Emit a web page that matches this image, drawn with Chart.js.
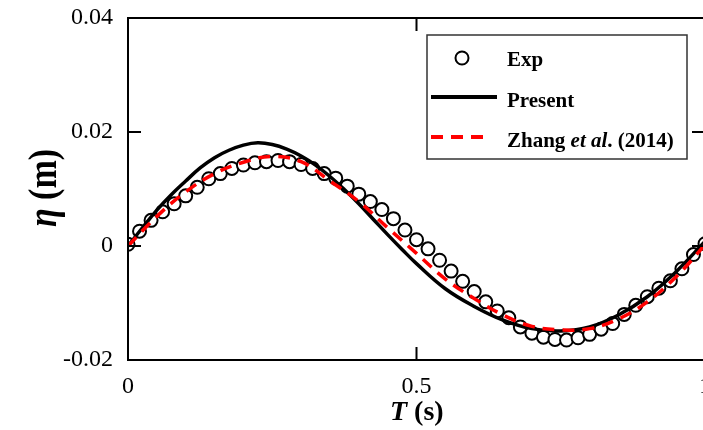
<!DOCTYPE html>
<html lang="en">
<head>
<meta charset="utf-8">
<title>Free surface elevation</title>
<script src="https://cdn.jsdelivr.net/npm/chart.js"></script>
<style>
  html, body { margin: 0; padding: 0; background: #fff; overflow: hidden; }
  #wrap { width: 716px; height: 430px; }
</style>
</head>
<body>
<div id="wrap"><canvas id="etaChart" width="716" height="430"></canvas></div>
<script>
// measured points (circles)
const expT = [0, 0.02, 0.04, 0.06, 0.08, 0.10, 0.12, 0.14, 0.16, 0.18,
              0.20, 0.22, 0.24, 0.26, 0.28, 0.30, 0.32, 0.34, 0.36, 0.38,
              0.40, 0.42, 0.44, 0.46, 0.48, 0.50, 0.52, 0.54, 0.56, 0.58,
              0.60, 0.62, 0.64, 0.66, 0.68, 0.70, 0.72, 0.74, 0.76, 0.78,
              0.80, 0.82, 0.84, 0.86, 0.88, 0.90, 0.92, 0.94, 0.96, 0.98, 1.00];
const expEta = [0.0003, 0.0026, 0.0045, 0.0060, 0.0074, 0.0088, 0.0103, 0.0118, 0.0127, 0.0136,
                0.0142, 0.0146, 0.0148, 0.0150, 0.0148, 0.0143, 0.0136, 0.0127, 0.0119, 0.0105,
                0.0091, 0.0078, 0.0064, 0.0048, 0.0028, 0.0011, -0.0005, -0.0025, -0.0044, -0.0062,
                -0.0080, -0.0098, -0.0114, -0.0126, -0.0142, -0.0153, -0.0160, -0.0164, -0.0165, -0.0161,
                -0.0155, -0.0146, -0.0136, -0.0120, -0.0104, -0.0089, -0.0074, -0.0061, -0.0040, -0.0015, 0.0004];

// simulated curves
const presentT = [0, 0.025, 0.05, 0.075, 0.10, 0.125, 0.15, 0.175, 0.20, 0.225,
                  0.25, 0.275, 0.30, 0.325, 0.35, 0.375, 0.40, 0.425, 0.45, 0.475,
                  0.50, 0.55, 0.60, 0.65, 0.70, 0.75, 0.80, 0.85, 0.90, 0.95, 1.00];
const presentEta = [0, 0.0032, 0.0063, 0.0090, 0.0114, 0.0137, 0.0155, 0.0168, 0.0177, 0.0181,
                    0.0178, 0.0170, 0.0158, 0.0142, 0.0122, 0.0099, 0.0074, 0.0047, 0.0020, -0.0006,
                    -0.0031, -0.0075, -0.0106, -0.0130, -0.0145, -0.0149, -0.0142, -0.0121, -0.0089, -0.0045, 0.0008];
const zhangT = [0, 0.05, 0.10, 0.15, 0.20, 0.25, 0.30, 0.35, 0.40, 0.45,
                0.50, 0.55, 0.60, 0.65, 0.70, 0.75, 0.80, 0.85, 0.90, 0.95, 1.00];
const zhangEta = [0, 0.0052, 0.0095, 0.0127, 0.0147, 0.0157, 0.0148, 0.0114, 0.0078, 0.0032,
                  -0.0013, -0.0058, -0.0092, -0.0121, -0.0141, -0.0147, -0.0145, -0.0128, -0.0098, -0.0054, 0.0002];

const xTicks = [0, 0.5, 1];
const yTicks = [-0.02, 0, 0.02, 0.04];

const serif = '"Liberation Serif", "Times New Roman", serif';

function pairs(xs, ys) {
  return xs.map((x, i) => ({ x: x, y: ys[i] }));
}

// frame with inward ticks on all four sides
const frameTicks = {
  id: 'frameTicks',
  afterDatasetsDraw(chart) {
    const { ctx, chartArea: a, scales } = chart;
    ctx.save();
    ctx.strokeStyle = '#000';
    ctx.lineWidth = 2;
    ctx.beginPath();
    ctx.moveTo(a.left, a.top); ctx.lineTo(a.right, a.top);
    ctx.lineTo(a.right, a.bottom); ctx.lineTo(a.left, a.bottom);
    ctx.closePath();
    xTicks.forEach(v => {
      const px = scales.x.getPixelForValue(v);
      ctx.moveTo(px, a.bottom); ctx.lineTo(px, a.bottom - 13);
      ctx.moveTo(px, a.top); ctx.lineTo(px, a.top + 13);
    });
    yTicks.forEach(v => {
      const py = scales.y.getPixelForValue(v);
      ctx.moveTo(a.left, py); ctx.lineTo(a.left + 13, py);
      ctx.moveTo(a.right, py); ctx.lineTo(a.right - 13, py);
    });
    ctx.stroke();
    ctx.restore();
  }
};

// legend box and axis titles (mixed italic / bold)
const annotations = {
  id: 'annotations',
  afterDraw(chart) {
    const ctx = chart.ctx;
    ctx.save();

    // legend
    ctx.fillStyle = '#fff';
    ctx.fillRect(427, 35, 260, 124);
    ctx.strokeStyle = '#333';
    ctx.lineWidth = 1.5;
    ctx.strokeRect(427, 35, 260, 124);

    ctx.strokeStyle = '#000';
    ctx.lineWidth = 2;
    ctx.beginPath();
    ctx.arc(462, 58, 6.5, 0, Math.PI * 2);
    ctx.stroke();

    ctx.lineWidth = 4;
    ctx.beginPath();
    ctx.moveTo(431, 97); ctx.lineTo(497, 97);
    ctx.stroke();

    ctx.strokeStyle = '#ff0000';
    ctx.setLineDash([12, 8]);
    ctx.beginPath();
    ctx.moveTo(431, 137); ctx.lineTo(490, 137);
    ctx.stroke();
    ctx.setLineDash([]);

    ctx.fillStyle = '#000';
    ctx.textBaseline = 'alphabetic';
    ctx.textAlign = 'left';
    ctx.font = 'bold 21px ' + serif;
    ctx.fillText('Exp', 507, 66);
    ctx.fillText('Present', 507, 107);
    let x = 507;
    const parts = [['Zhang ', 'bold'], ['et al', 'italic bold'], ['. (2014)', 'bold']];
    parts.forEach(p => {
      ctx.font = p[1] + ' 21px ' + serif;
      ctx.fillText(p[0], x, 147);
      x += ctx.measureText(p[0]).width;
    });

    // x title
    x = 390;
    const xt = [['T', 'italic bold'], [' (s)', 'bold']];
    xt.forEach(p => {
      ctx.font = p[1] + ' 28px ' + serif;
      ctx.fillText(p[0], x, 420);
      x += ctx.measureText(p[0]).width;
    });

    // y title, rotated and a little taller across
    ctx.translate(56, 188);
    ctx.rotate(-Math.PI / 2);
    ctx.scale(1, 1.2);
    const yt = [['\u03B7', 'italic bold'], [' (m)', 'bold']];
    let w = 0;
    yt.forEach(p => { ctx.font = p[1] + ' 34px ' + serif; w += ctx.measureText(p[0]).width; });
    x = -w / 2;
    yt.forEach(p => {
      ctx.font = p[1] + ' 34px ' + serif;
      ctx.fillText(p[0], x, 0);
      x += ctx.measureText(p[0]).width;
    });

    ctx.restore();
  }
};

new Chart(document.getElementById('etaChart'), {
  type: 'line',
  data: {
    datasets: [
      {
        label: 'Zhang et al. (2014)',
        data: pairs(zhangT, zhangEta),
        borderColor: '#ff0000',
        borderWidth: 3.5,
        borderDash: [12, 8],
        pointRadius: 0,
        tension: 0.4,
        order: 0
      },
      {
        label: 'Present',
        data: pairs(presentT, presentEta),
        borderColor: '#000',
        borderWidth: 3.5,
        pointRadius: 0,
        tension: 0.4,
        order: 1
      },
      {
        label: 'Exp',
        data: pairs(expT, expEta),
        showLine: false,
        pointRadius: 6.5,
        pointBorderWidth: 2,
        pointBackgroundColor: '#fff',
        pointBorderColor: '#000',
        order: 2
      }
    ]
  },
  options: {
    responsive: false,
    animation: false,
    events: [],
    layout: { autoPadding: false, padding: { left: 0, top: 18, right: 11, bottom: 0 } },
    plugins: { legend: { display: false }, tooltip: { enabled: false } },
    scales: {
      x: {
        type: 'linear',
        min: 0,
        max: 1,
        afterBuildTicks: s => { s.ticks = xTicks.map(v => ({ value: v })); },
        afterFit: s => { s.height = 70; s.paddingLeft = 0; s.paddingRight = 0; },
        grid: { display: false, drawTicks: false },
        border: { display: false },
        ticks: {
          color: '#000',
          font: { family: serif, size: 24 },
          padding: 12,
          maxRotation: 0,
          callback: v => String(v)
        }
      },
      y: {
        type: 'linear',
        min: -0.02,
        max: 0.04,
        afterBuildTicks: s => { s.ticks = yTicks.map(v => ({ value: v })); },
        afterFit: s => { s.width = 128; s.paddingTop = 0; s.paddingBottom = 0; },
        grid: { display: false, drawTicks: false },
        border: { display: false },
        ticks: {
          color: '#000',
          font: { family: serif, size: 24 },
          padding: 15,
          callback: v => {
            const r = Math.round(v * 100) / 100;
            return r === 0 ? '0' : r.toFixed(2);
          }
        }
      }
    }
  },
  plugins: [frameTicks, annotations]
});
</script>
</body>
</html>
